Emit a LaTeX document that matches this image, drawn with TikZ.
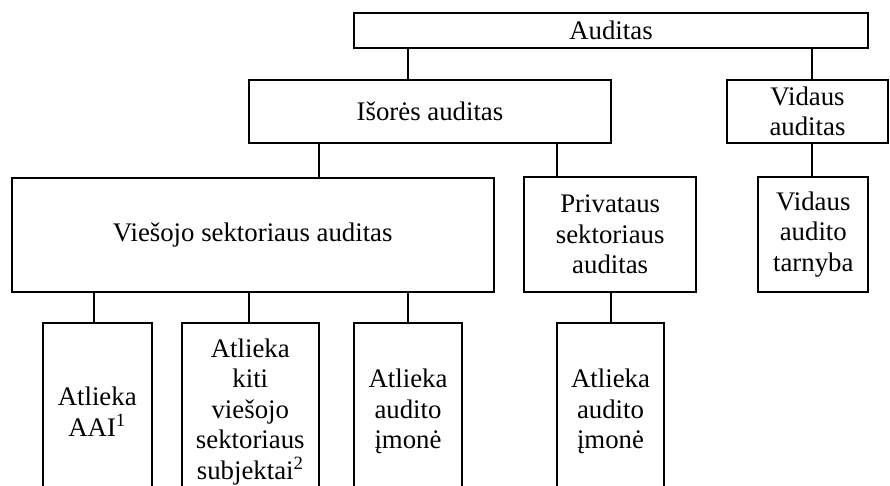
\documentclass[tikz,border=0pt]{standalone}
\usepackage{fontspec}
\setmainfont{Liberation Serif}
\usetikzlibrary{positioning}

\tikzset{
  box/.style={draw=black,line width=1.6pt,align=center,inner sep=0pt,
    font=\fontsize{20.1}{22.9}\selectfont},
  wh/.style 2 args={minimum width=#1*0.75pt,minimum height=#2*0.75pt},
  link/.style={draw=black,line width=1.6pt}
}

\begin{document}
\begin{tikzpicture}[x=0.75pt,y=-0.75pt]
  \useasboundingbox (0,0) rectangle (890,486);
  % top levels
  \node[box,wh={514}{34.4}] (audit) at (611,30.5) {Auditas};
  \node[box,wh={362}{62.7}] (isores) at (430,111.3) {Išorės auditas};
  \node[box,wh={161}{62.7}] (vidaus) at (807.5,111.3) {Vidaus\\auditas};
  \node[box,wh={482}{114}] (viesojo) at (252.7,234.7) {Viešojo sektoriaus auditas};
  \node[box,wh={171.7}{114.3}] (priv) at (610.2,234.5) {Privataus\\sektoriaus\\auditas};
  \node[box,wh={110}{114.3}] (tarn) at (813.3,234.5) {Vidaus\\audito\\tarnyba};
  % bottom row, runs past the lower edge
  \node[box,wh={109}{176.7}] (aai) at (97.2,411.7) {Atlieka\\AAI\textsuperscript{1}};
  \node[box,wh={137.3}{176.7}] (kiti) at (250.3,411.7) {Atlieka\\kiti\\viešojo\\sektoriaus\\subjektai\textsuperscript{2}};
  \node[box,wh={107.4}{176.7}] (imone1) at (408,411.7) {Atlieka\\audito\\įmonė};
  \node[box,wh={107}{176.7}] (imone2) at (610.5,411.7) {Atlieka\\audito\\įmonė};
  % connectors
  \draw[link] (audit.south -| 407.7,0) -- (isores.north -| 407.7,0);
  \draw[link] (audit.south -| 812,0) -- (vidaus.north -| 812,0);
  \draw[link] (vidaus.south -| 812,0) -- (tarn.north -| 812,0);
  \draw[link] (isores.south -| 319,0) -- (viesojo.north -| 319,0);
  \draw[link] (isores.south -| 556.7,0) -- (priv.north -| 556.7,0);
  \foreach \n/\x in {aai/94,kiti/249,imone1/407.7}{
    \draw[link] (viesojo.south -| \x,0) -- (\n.north -| \x,0);}
  \draw[link] (priv.south -| 611,0) -- (imone2.north -| 611,0);
\end{tikzpicture}
\end{document}
